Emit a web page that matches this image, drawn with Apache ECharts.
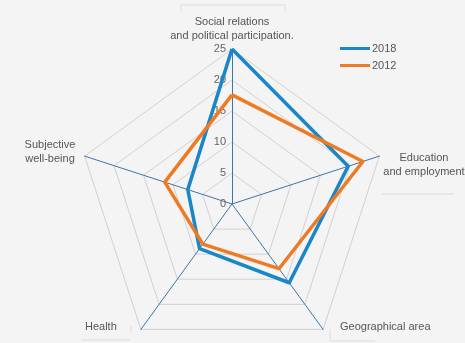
<!DOCTYPE html>
<html>
<head>
<meta charset="utf-8">
<script src="https://cdn.jsdelivr.net/npm/echarts@6/dist/echarts.min.js"></script>
<style>
html,body{margin:0;padding:0;background:#f4f4f4;}
#c{width:465px;height:343px;}
</style>
</head>
<body>
<div id="c"></div>
<script>
// Indicators in ECharts' counter-clockwise order starting from the top
var indicators = ['Social relations\nand political participation.', 'Subjective\nwell-being', 'Health', 'Geographical area', 'Education\nand employment'];
var maxValue = 25;
var tickLabels = ['0', '5', '10', '15', '20', '25'];
var seriesNames = ['2018', '2012'];
var values2018 = [25, 7.5, 8.9, 15.7, 19.7];
var values2012 = [17.6, 11.4, 8.0, 12.9, 22.2];

var chart = echarts.init(document.getElementById('c'));
var textColor = '#555';
var font = 'Liberation Sans, Arial, sans-serif';

var labelDefs = [
  {x: 232, y: 15, align: 'center'},
  {x: 50, y: 138, align: 'center'},
  {x: 85, y: 320, align: 'left'},
  {x: 340, y: 320, align: 'left'},
  {x: 424, y: 151, align: 'center'}
];
var graphics = indicators.map(function (name, i) {
  return {
    type: 'text', x: labelDefs[i].x, y: labelDefs[i].y,
    style: {text: name, fill: textColor, font: '11px ' + font, align: labelDefs[i].align, lineHeight: 14}
  };
});
var frameColor = '#dcdcdc';
[
  [[181, 11], [181, 5], [285, 5], [285, 11]],
  [[382, 194], [454, 194]],
  [[131, 333], [131, 326]],
  [[82, 340], [131, 340]],
  [[330, 329], [330, 341], [375, 341]]
].forEach(function (pts) {
  graphics.push({type: 'polyline', shape: {points: pts}, style: {stroke: frameColor, lineWidth: 1, fill: null}, silent: true});
});

chart.setOption({
  backgroundColor: '#f4f4f4',
  animation: false,
  legend: {
    orient: 'vertical', left: 335, top: 38, itemGap: 6,
    icon: 'rect', itemWidth: 30, itemHeight: 3,
    textStyle: {color: textColor, fontSize: 11, fontFamily: font, padding: [0, 0, 0, -3]},
    data: seriesNames
  },
  radar: {
    center: [232, 204], radius: 155, shape: 'polygon',
    startAngle: 90, min: 0, max: maxValue, splitNumber: 5,
    axisName: {show: false},
    axisLine: {lineStyle: {color: '#3f74aa', width: 1}},
    splitLine: {lineStyle: {color: '#d2d2d2', width: 1}},
    splitArea: {show: false},
    axisLabel: {show: false},
    indicator: indicators.map(function (n, i) {
      var ind = {name: n, min: 0, max: maxValue};
      if (i === 0) {
        ind.axisLabel = {show: true, color: '#666', fontSize: 11, fontFamily: font, margin: 6,
          formatter: function (v) { return tickLabels[Math.round(v / 5)]; }};
      }
      return ind;
    })
  },
  graphic: graphics,
  series: [{
    type: 'radar', symbol: 'none',
    data: [
      {name: seriesNames[0], value: values2018, lineStyle: {color: '#1a86c8', width: 3.5}, itemStyle: {color: '#1a86c8'}},
      {name: seriesNames[1], value: values2012, lineStyle: {color: '#ee7b23', width: 3.5}, itemStyle: {color: '#ee7b23'}}
    ]
  }]
});
</script>
</body>
</html>
